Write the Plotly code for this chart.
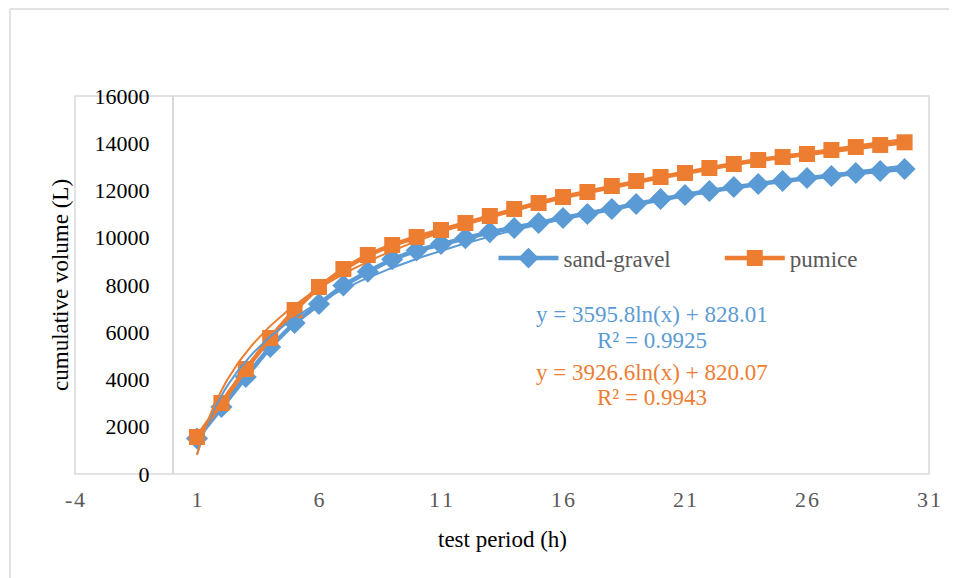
import numpy as np
import plotly.graph_objects as go

hours = list(range(1, 31))
sand_gravel = [1500, 2836, 4106, 5376, 6392, 7196, 7980, 8560, 9090, 9460,
               9740, 9980, 10230, 10413, 10625, 10837, 11006, 11218, 11430, 11641,
               11810, 11980, 12149, 12276, 12403, 12530, 12615, 12741, 12826, 12911]
pumice = [1566, 3005, 4445, 5757, 6942, 7916, 8678, 9270, 9693, 10032,
          10328, 10625, 10921, 11218, 11472, 11725, 11937, 12191, 12403, 12572,
          12741, 12953, 13122, 13291, 13419, 13546, 13715, 13842, 13927, 14040]

# logarithmic trendline coefficients (as labelled on the chart)
sg_a, sg_b, sg_r2 = 3595.8, 828.01, 0.9925
pu_a, pu_b, pu_r2 = 3926.6, 820.07, 0.9943

x_ticks = [-4, 1, 6, 11, 16, 21, 26, 31]
y_ticks = [0, 2000, 4000, 6000, 8000, 10000, 12000, 14000, 16000]

BLUE = "#5B9BD5"
ORANGE = "#ED7D31"
GRID = "#D9D9D9"
FONT = "Liberation Serif"

xs = np.linspace(1, 30, 300)

fig = go.Figure()
fig.add_trace(go.Scatter(x=hours, y=sand_gravel, mode="lines+markers", name="sand-gravel",
                         line=dict(color=BLUE, width=4.5), legend="legend",
                         marker=dict(symbol="diamond", size=17, color=BLUE)))
fig.add_trace(go.Scatter(x=hours, y=pumice, mode="lines+markers", name="pumice",
                         line=dict(color=ORANGE, width=4.5), legend="legend2",
                         marker=dict(symbol="square", size=16, color=ORANGE)))
fig.add_trace(go.Scatter(x=xs, y=sg_a * np.log(xs) + sg_b, mode="lines", showlegend=False,
                         line=dict(color=BLUE, width=2), hoverinfo="skip"))
fig.add_trace(go.Scatter(x=xs, y=pu_a * np.log(xs) + pu_b, mode="lines", showlegend=False,
                         line=dict(color=ORANGE, width=2), hoverinfo="skip"))

def spaced(v):
    return "\u200a".join(str(v))

legend_style = dict(orientation="h", yanchor="middle", xanchor="left", y=0.571,
                    bgcolor="rgba(0,0,0,0)", itemwidth=60,
                    font=dict(family=FONT, size=23, color="#595959"))

fig.update_layout(
    width=949, height=570,
    margin=dict(l=67, r=28, t=88, b=104, autoexpand=False),
    paper_bgcolor="white", plot_bgcolor="white",
    font=dict(family=FONT, size=22, color="black"),
    xaxis=dict(range=[-4, 31], tickmode="array", tickvals=x_ticks,
               ticktext=[spaced(v) for v in x_ticks],
               showgrid=False, zeroline=False, showline=False, ticks="",
               tickfont=dict(family=FONT, size=22, color="#595959"),
               ticklabelstandoff=10),
    yaxis=dict(range=[0, 16000], tickmode="array", tickvals=y_ticks,
               ticktext=[str(v) for v in y_ticks],
               anchor="free", position=4 / 35,
               showgrid=False, zeroline=False, showline=True, linecolor=GRID, linewidth=1.5,
               ticks="", tickfont=dict(family=FONT, size=22, color="black"),
               ticklabelstandoff=18),
    legend=dict(x=0.490, **legend_style),
    legend2=dict(x=0.755, **legend_style),
    shapes=[
        dict(type="rect", xref="paper", yref="paper", x0=0, x1=1, y0=0, y1=1,
             line=dict(color=GRID, width=1.5), layer="below"),
        dict(type="line", xref="paper", yref="paper", x0=-0.0761, x1=-0.0761, y0=-0.35, y1=1.2302,
             line=dict(color=GRID, width=1.5)),
        dict(type="line", xref="paper", yref="paper", x0=-0.0761, x1=1.1, y0=1.2302, y1=1.2302,
             line=dict(color=GRID, width=1.5)),
    ],
    annotations=[
        dict(text="cumulative volume (L)", xref="paper", yref="paper", x=-0.0176, y=0.5,
             textangle=-90, showarrow=False, xanchor="center", yanchor="middle",
             font=dict(family=FONT, size=23, color="black")),
        dict(text="test period (h)", xref="paper", yref="paper", x=0.5, y=-0.1746,
             showarrow=False, xanchor="center", yanchor="middle",
             font=dict(family=FONT, size=23, color="black")),
        dict(text=f"y = {sg_a}ln(x) + {sg_b}", xref="x", yref="y", x=19.65, y=(474 - 314) * 16000 / 378,
             showarrow=False, font=dict(family=FONT, size=23, color=BLUE)),
        dict(text=f"R² = {sg_r2}", xref="x", yref="y", x=19.65, y=(474 - 340) * 16000 / 378,
             showarrow=False, font=dict(family=FONT, size=23, color=BLUE)),
        dict(text=f"y = {pu_a}ln(x) + {pu_b}", xref="x", yref="y", x=19.65, y=(474 - 372) * 16000 / 378,
             showarrow=False, font=dict(family=FONT, size=23, color=ORANGE)),
        dict(text=f"R² = {pu_r2}", xref="x", yref="y", x=19.65, y=(474 - 397) * 16000 / 378,
             showarrow=False, font=dict(family=FONT, size=23, color=ORANGE)),
    ],
)

fig.write_html("out.html")
